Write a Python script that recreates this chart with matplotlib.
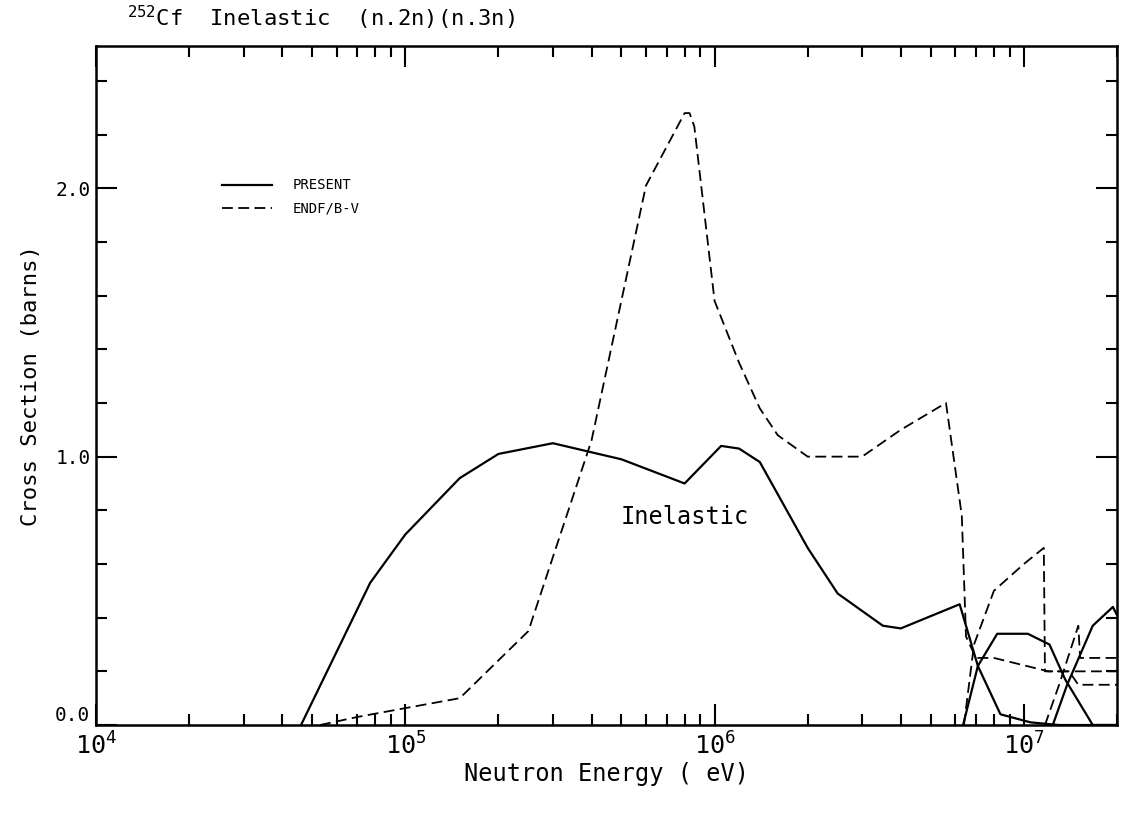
# -*- coding: utf-8 -*-
"""
252Cf inelastic, (n,2n), (n,3n) cross sections: present vs ENDF/B-V.
"""
import matplotlib
matplotlib.use('Agg')
import matplotlib.pyplot as plt

plt.rcParams['font.family'] = ['DejaVu Sans Mono', 'DejaVu Sans']
plt.rcParams['mathtext.fontset'] = 'custom'
plt.rcParams['mathtext.rm'] = 'DejaVu Sans Mono'
plt.rcParams['mathtext.it'] = 'DejaVu Sans Mono'

#---  data (energy in eV, cross section in barns)  ---
e_inel = [4.6e4, 7.7e4, 1.0e5, 1.5e5, 2.0e5, 3.0e5, 5.0e5, 8.0e5, 1.05e6, 1.2e6,
          1.4e6, 2.0e6, 2.5e6, 3.5e6, 4.0e6, 6.2e6, 7.1e6, 8.4e6, 1.05e7, 1.3e7, 2.0e7]
xs_inel = [0.0, 0.53, 0.71, 0.92, 1.01, 1.05, 0.99, 0.90, 1.04, 1.03,
           0.98, 0.66, 0.49, 0.37, 0.36, 0.45, 0.22, 0.04, 0.01, 0.0, 0.0]

e_n2n = [6.36e6, 7.1e6, 8.2e6, 1.03e7, 1.21e7, 1.36e7, 1.67e7, 2.0e7]
xs_n2n = [0.0, 0.22, 0.34, 0.34, 0.30, 0.17, 0.0, 0.0]

e_n3n = [1.24e7, 1.38e7, 1.67e7, 1.94e7, 2.0e7]
xs_n3n = [0.0, 0.15, 0.37, 0.44, 0.41]

e_endf_inel = [5.3e4, 7.0e4, 1.0e5, 1.5e5, 2.5e5, 4.0e5, 6.0e5, 8.0e5, 8.3e5, 8.6e5,
               1.0e6, 1.2e6, 1.4e6, 1.6e6, 2.0e6, 3.0e6, 4.0e6, 5.6e6, 6.3e6, 6.5e6,
               7.0e6, 8.0e6, 1.2e7, 1.4e7, 1.5e7, 2.0e7]
xs_endf_inel = [0.0, 0.03, 0.063, 0.10, 0.35, 1.06, 2.01, 2.28, 2.28, 2.23,
                1.58, 1.35, 1.18, 1.08, 1.0, 1.0, 1.10, 1.20, 0.78, 0.33,
                0.25, 0.25, 0.20, 0.20, 0.15, 0.15]

e_endf_n2n = [6.4e6, 6.9e6, 8.0e6, 1.0e7, 1.16e7, 1.17e7, 2.0e7]
xs_endf_n2n = [0.0, 0.30, 0.50, 0.60, 0.66, 0.20, 0.20]

e_endf_n3n = [1.17e7, 1.3e7, 1.5e7, 1.52e7, 2.0e7]
xs_endf_n3n = [0.0, 0.15, 0.37, 0.25, 0.25]

#--------------------------------------------
#---  Creates plot                        ---
fig = plt.figure(figsize=(11.27, 8.14), dpi=100)
ax = fig.add_axes([0.0852, 0.1093, 0.9059, 0.8342])

lw = 1.6
dash = (0, (6, 3))
ax.plot(e_inel, xs_inel, color='black', lw=lw)
ax.plot(e_n2n, xs_n2n, color='black', lw=lw)
ax.plot(e_n3n, xs_n3n, color='black', lw=lw)
ax.plot(e_endf_inel, xs_endf_inel, color='black', lw=1.3, linestyle=dash)
ax.plot(e_endf_n2n, xs_endf_n2n, color='black', lw=1.3, linestyle=dash)
ax.plot(e_endf_n3n, xs_endf_n3n, color='black', lw=1.3, linestyle=dash)

#---  axes  ---
ax.set_xscale('log')
ax.set_xlim(1e4, 2e7)
ax.set_ylim(0, 2.53)
ax.set_yticks([0.0, 1.0, 2.0])
ax.set_yticklabels(['0.0', '1.0', '2.0'])
ax.set_yticks([0.2, 0.4, 0.6, 0.8, 1.2, 1.4, 1.6, 1.8, 2.2, 2.4], minor=True)
ax.set_xticks([1e4, 1e5, 1e6, 1e7])
ax.set_xticklabels([r'$10^{4}$', r'$10^{5}$', r'$10^{6}$', r'$10^{7}$'])
ax.tick_params(which='both', direction='in', top=True, right=True, width=1.5)
ax.tick_params(which='major', length=15)
ax.tick_params(which='minor', length=8)
ax.tick_params(axis='x', labelsize=18, pad=5)
ax.tick_params(axis='y', labelsize=14, pad=4)
ax.get_yticklabels()[0].set_va('bottom')   # raise "0.0" off the 10^4 label
for s in ax.spines.values():
    s.set_linewidth(1.8)

ax.set_xlabel("Neutron Energy ( eV)", fontsize=17, labelpad=2)
ax.set_ylabel("Cross Section (barns)", fontsize=16, labelpad=10)
fig.text(0.113, 0.978, r"$^{252}$Cf  Inelastic  (n.2n)(n.3n)", fontsize=16,
         ha='left', va='center')

#---  curve label  ---
ax.text(8.0e5, 0.776, "Inelastic", fontsize=17, ha='center', va='center')

#---  legend drawn by hand  ---
ax.plot([0.123, 0.172], [0.795, 0.795], color='black', lw=lw, transform=ax.transAxes)
ax.plot([0.123, 0.172], [0.761, 0.761], color='black', lw=1.3, linestyle=dash,
        transform=ax.transAxes)
ax.text(0.193, 0.795, "PRESENT", fontsize=10, va='center', transform=ax.transAxes)
ax.text(0.193, 0.761, "ENDF/B-V", fontsize=10, va='center', transform=ax.transAxes)

plt.savefig('out.png')
